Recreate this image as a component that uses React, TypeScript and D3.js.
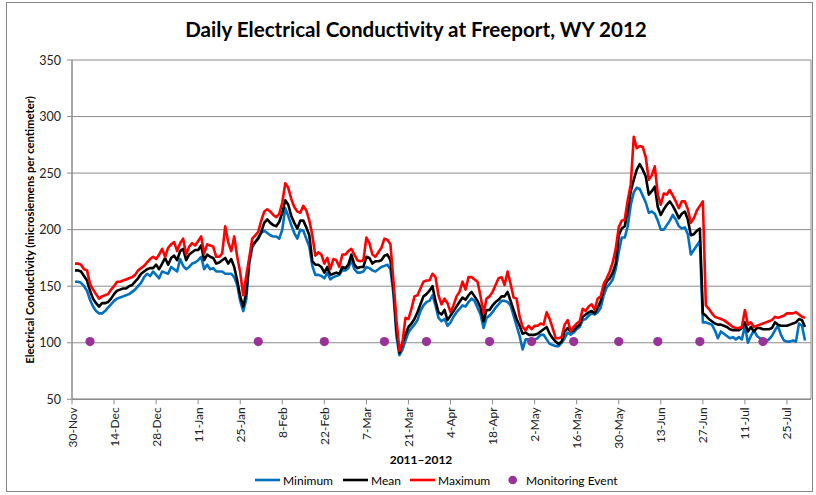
import React from 'react';
import * as d3 from 'd3';

// Daily values, starting 1-Dec-2011 and running through 31-Jul-2012
const firstDay = Date.UTC(2011, 11, 1);

const minimumValues = [
  154,154,153,150,146,138,132,128,126,126,
  128,131,134,137,139,140,141,142,143,145,
  147,150,153,158,161,159,163,160,157,163,
  162,161,167,165,163,174,168,165,167,170,
  171,173,176,165,169,165,166,163,163,163,
  161,161,161,158,151,137,128,138,170,184,
  189,193,197,199,197,195,194,194,192,200,
  219,212,204,197,192,200,199,192,185,168,
  160,160,159,157,162,156,158,159,160,164,
  164,166,173,165,162,162,163,167,166,164,
  163,165,167,168,169,165,143,106,89,94,
  102,109,113,116,120,128,133,136,137,142,
  133,122,119,121,115,118,123,127,130,133,
  132,136,139,137,131,125,113,122,124,127,
  131,134,137,137,136,133,124,115,106,94,
  103,103,103,103,104,107,107,103,99,98,
  97,97,100,104,109,107,109,112,114,120,
  121,124,126,125,127,131,142,149,152,156,
  165,180,193,193,203,222,233,237,236,230,
  224,215,216,214,208,200,200,204,208,213,
  209,203,201,202,196,178,182,186,190,118,
  118,117,116,111,104,110,108,106,104,105,
  103,105,103,115,100,106,111,106,104,102,
  101,103,106,111,115,107,102,101,101,102,
  101,117,115,102,
];

const meanValues = [
  164,164,163,159,155,146,139,135,132,135,
  135,136,139,143,146,147,148,148,150,151,
  154,157,161,163,165,166,166,169,165,170,
  175,169,175,177,173,181,183,173,178,180,
  182,182,186,173,178,176,175,170,171,173,
  175,170,174,167,155,141,132,144,173,187,
  189,192,198,206,209,206,204,203,207,215,
  226,222,212,206,201,208,208,202,195,172,
  169,169,167,162,167,160,161,162,161,167,
  166,169,178,169,166,167,167,176,175,170,
  172,172,173,177,178,173,148,112,91,100,
  107,114,117,121,127,134,141,143,146,150,
  137,127,125,129,120,124,128,132,136,140,
  138,142,145,141,137,131,119,129,129,133,
  136,138,141,141,145,137,129,121,115,108,
  109,107,107,107,108,110,112,114,108,104,
  101,99,101,110,113,110,111,114,116,123,
  125,127,128,126,131,137,148,154,157,162,
  170,195,201,203,217,234,244,253,258,253,
  247,231,234,238,220,213,218,222,225,221,
  216,210,214,216,209,195,196,199,201,126,
  124,121,119,117,116,116,115,114,112,111,
  111,111,113,118,110,114,110,113,113,112,
  112,112,113,118,116,115,115,115,116,117,
  118,121,120,114,
];

const maximumValues = [
  170,170,169,165,164,152,147,143,139,141,
  142,143,147,150,154,154,155,156,157,158,
  160,164,166,168,171,174,176,174,178,183,
  176,184,187,189,181,188,192,178,185,188,
  186,190,194,179,187,186,185,176,176,179,
  203,189,181,194,176,162,142,159,175,192,
  195,198,208,216,218,216,213,211,214,224,
  241,237,227,220,216,215,221,217,208,195,
  177,180,178,170,175,165,174,173,167,178,
  178,181,183,178,173,172,173,193,188,178,
  176,180,184,192,191,187,155,120,93,100,
  122,121,130,141,142,148,154,155,155,161,
  158,142,134,139,135,127,133,141,145,154,
  147,158,158,156,154,141,126,139,141,145,
  151,157,158,151,163,152,140,139,123,114,
  111,115,112,115,115,117,116,127,121,113,
  104,104,105,116,120,110,114,117,119,130,
  128,132,134,129,139,141,152,157,163,171,
  183,202,208,209,226,240,282,272,274,273,
  264,244,248,256,231,222,232,231,235,230,
  225,219,225,225,218,206,210,217,221,225,
  133,130,126,123,122,121,120,118,116,114,
  113,113,114,129,116,118,114,115,116,117,
  118,119,120,123,122,123,124,126,126,126,
  127,125,123,122,
];

const monitoringEventDates = [
  '2011-12-06', '2012-01-31', '2012-02-22', '2012-03-13', '2012-03-27', '2012-04-17',
  '2012-05-01', '2012-05-15', '2012-05-30', '2012-06-12', '2012-06-26', '2012-07-17',
];
const monitoringEventValue = 101;

const xTickLabels = [
  '30-Nov', '14-Dec', '28-Dec', '11-Jan', '25-Jan', '8-Feb', '22-Feb', '7-Mar', '21-Mar',
  '4-Apr', '18-Apr', '2-May', '16-May', '30-May', '13-Jun', '27-Jun', '11-Jul', '25-Jul',
];
const yTicks = [50, 100, 150, 200, 250, 300, 350];

const seriesNames = ['Minimum', 'Mean', 'Maximum'];
const seriesColors = ['#0070C0', '#000000', '#FF0000'];

const FONT = 'Lato, "Open Sans", sans-serif';

export default function App() {
  const W = 816;
  const H = 495;
  const left = 72;
  const right = 811;
  const top = 60;
  const bottom = 399.3;

  const x = d3
    .scaleUtc()
    .domain([new Date(Date.UTC(2011, 10, 30)), new Date(Date.UTC(2012, 7, 2))])
    .range([left, right]);
  const y = d3.scaleLinear().domain([50, 350]).range([bottom, top]);

  const dayDate = (i: number) => d3.utcDay.offset(new Date(firstDay), i);
  const parseTick = (s: string) => {
    const m = s.split('-')[1];
    const yr = m === 'Nov' || m === 'Dec' ? 2011 : 2012;
    return d3.utcParse('%d-%b-%Y')(`${s}-${yr}`) as Date;
  };
  const tickDates = xTickLabels.map(parseTick);
  const parseIso = d3.utcParse('%Y-%m-%d');

  const line = d3
    .line<number>()
    .x((_, i) => x(dayDate(i)))
    .y((v) => y(v));

  const series = [minimumValues, meanValues, maximumValues];

  const legendItems = [
    { x0: 255, label: 'Minimum', color: seriesColors[0] },
    { x0: 343, label: 'Mean', color: seriesColors[1] },
    { x0: 410, label: 'Maximum', color: seriesColors[2] },
  ];

  return (
    <div style={{ position: 'absolute', left: 0, top: 0, width: W, height: H, background: '#fff' }}>
      <svg width={W} height={H} style={{ display: 'block' }} fontFamily={FONT}>
        <rect x={0} y={0} width={W} height={H} fill="#fff" />
        <rect x={6.5} y={2.5} width={806} height={489} fill="none" stroke="#868686" strokeWidth={1} />

        <text x={416} y={37} textAnchor="middle" fontSize={20.6} fontWeight="bold" fill="#000">
          Daily Electrical Conductivity at Freeport, WY 2012
        </text>

        {/* grid */}
        {yTicks.map((t) => (
          <line key={t} x1={left} x2={right} y1={y(t)} y2={y(t)} stroke="#8C8C8C" strokeWidth={1} />
        ))}
        <line x1={right} x2={right} y1={top} y2={bottom} stroke="#8C8C8C" strokeWidth={1} />
        {/* y axis */}
        <line x1={left} x2={left} y1={top} y2={bottom} stroke="#8C8C8C" strokeWidth={1.5} />
        {yTicks.map((t) => (
          <g key={'yt' + t}>
            <line x1={left - 5} x2={left} y1={y(t)} y2={y(t)} stroke="#8C8C8C" />
            <text x={left - 11} y={y(t) + 4.5} textAnchor="end" fontSize={12.5} fill="#222">
              {t}
            </text>
          </g>
        ))}
        {/* x axis */}
        <line x1={left} x2={right} y1={bottom} y2={bottom} stroke="#8C8C8C" strokeWidth={1.5} />
        {tickDates.map((d, i) => (
          <g key={'xt' + i} transform={`translate(${x(d)},${bottom})`}>
            <line y1={0} y2={5} stroke="#8C8C8C" />
            <text
              transform="rotate(-90)"
              x={-8}
              y={4.5}
              textAnchor="end"
              fontSize={12}
              fill="#222"
            >
              {xTickLabels[i]}
            </text>
          </g>
        ))}

        <text
          transform={`translate(34,230) rotate(-90)`}
          textAnchor="middle"
          fontSize={11.3}
          fontWeight="bold"
          fill="#000"
        >
          Electrical Conductivity (microsiemens per centimeter)
        </text>
        <text x={421} y={464} textAnchor="middle" fontSize={12} fontWeight="bold" fill="#000">
          2011–2012
        </text>

        {/* series */}
        {series.map((vals, k) => (
          <path
            key={seriesNames[k]}
            d={line(vals) || ''}
            fill="none"
            stroke={seriesColors[k]}
            strokeWidth={2.6}
            strokeLinejoin="round"
          />
        ))}

        {monitoringEventDates.map((s) => (
          <circle key={s} cx={x(parseIso(s) as Date)} cy={y(monitoringEventValue)} r={4.6} fill="#993399" />
        ))}

        {/* legend */}
        {legendItems.map((it) => (
          <g key={it.label}>
            <line x1={it.x0} x2={it.x0 + 25} y1={480} y2={480} stroke={it.color} strokeWidth={2.6} />
            <text x={it.x0 + 28} y={484.5} fontSize={12} fill="#000">
              {it.label}
            </text>
          </g>
        ))}
        <circle cx={512.7} cy={480} r={4.3} fill="#993399" />
        <text x={526} y={484.5} fontSize={12} fill="#000">
          Monitoring Event
        </text>
      </svg>
    </div>
  );
}
